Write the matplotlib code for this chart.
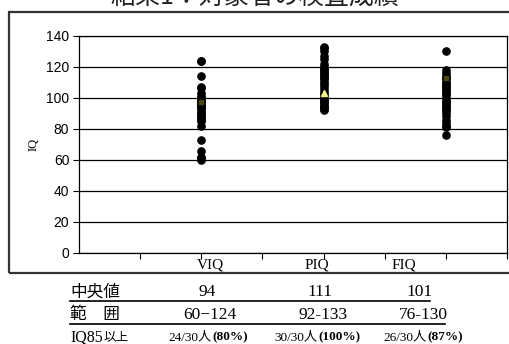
import matplotlib
matplotlib.use("Agg")
import matplotlib.pyplot as plt
from matplotlib.patches import Rectangle
from matplotlib.lines import Line2D

# IQ scores per subtest (30 subjects each)
categories = ["VIQ", "PIQ", "FIQ"]
viq = [60, 61, 62, 66, 73, 82, 85, 86, 87, 88, 89, 90, 91, 93, 94,
       94, 94, 95, 96, 97, 98, 99, 100, 101, 103, 106, 107, 114, 124, 124]
piq = [92, 93, 94, 95, 96, 97, 98, 99, 100, 102, 103, 105, 107, 109, 110,
       112, 113, 114, 115, 116, 117, 118, 119, 120, 122, 125, 127, 130, 132, 133]
fiq = [76, 81, 82, 84, 86, 88, 90, 92, 93, 94, 95, 96, 97, 98, 100,
       102, 103, 104, 105, 106, 107, 108, 109, 110, 112, 113, 114, 116, 118, 130]
scores = [viq, piq, fiq]

# a few highlighted points (other marker styles in the original)
hl_square = [97, None, 113]
hl_triangle = [None, 103, None]

# summary table under the chart
row_labels = ["中央値", "範\u3000囲"]
medians = ["94", "111", "101"]
ranges = ["60\u2212124", "92-133", "76-130"]
counts = ["24/30人", "30/30人", "26/30人"]
percents = ["(80%)", "(100%)", "(87%)"]

title = "結果1：対象者の検査成績"
cjk = ["Noto Sans CJK JP", "DejaVu Sans"]
serif = ["Liberation Serif", "Noto Sans CJK JP"]

W, H = 510, 344
fig = plt.figure(figsize=(W / 100, H / 100), dpi=100)


def fx(px):
    return px / W


def fy(py):
    return 1 - py / H


# outer frame
fig.patches.append(Rectangle((fx(9), fy(273)), fx(520 - 9), (273 - 12) / H,
                             transform=fig.transFigure, fill=False,
                             edgecolor="#333333", lw=1.6, clip_on=False))

fig.text(fx(255), fy(10), title, ha="center", va="bottom",
         fontsize=18, family=cjk, color="#222222")

ax = fig.add_axes([fx(79), fy(253), fx(507 - 79), (253 - 35.7) / H])
xpos = [2, 4, 6]
for x, vals in zip(xpos, scores):
    ax.plot([x] * len(vals), vals, "o", color="black", ms=5.2, zorder=3)
for x, v in zip(xpos, hl_square):
    if v is not None:
        ax.plot(x, v, "s", color="#4a4a10", ms=3.5, zorder=4)
for x, v in zip(xpos, hl_triangle):
    if v is not None:
        ax.plot(x, v, "^", color="#f3f08a", ms=4, zorder=4)

ax.set_xlim(0, 7)
ax.set_ylim(0, 140)
ax.set_yticks(range(0, 141, 20))
ax.set_xticks(range(1, 8))
ax.set_xticklabels([])
for lab in ax.get_yticklabels():
    lab.set_family("Liberation Sans")
    lab.set_fontsize(10)
ax.tick_params(direction="out", length=4, width=0.8, pad=3)
ax.grid(axis="y", color="black", lw=0.9)
ax.set_axisbelow(True)
for s in ax.spines.values():
    s.set_color("black")
    s.set_linewidth(0.9)
ax.set_ylabel("IQ", family=serif, fontsize=9, labelpad=5)

# category labels (offset from the ticks as in the original)
cat_x = [210, 317, 404]
for x, c in zip(cat_x, categories):
    fig.text(fx(x), fy(265), c, ha="center", va="center", fontsize=11, family=serif)

# table below
col_x = [207, 320, 420]
fig.text(fx(70), fy(292), row_labels[0], ha="left", va="center", fontsize=12, family=cjk)
fig.text(fx(70), fy(315), row_labels[1], ha="left", va="center", fontsize=12, family=cjk)
for x, m, r in zip(col_x, medians, ranges):
    fig.text(fx(x), fy(292), m, ha="center", va="center", fontsize=12.5, family=serif)
    fig.text(fx(x + 3), fy(315), r, ha="center", va="center", fontsize=12.5, family=serif)
fig.add_artist(Line2D([fx(70), fx(430)], [fy(301), fy(301)], color="black", lw=1.2))
fig.add_artist(Line2D([fx(70), fx(445)], [fy(324), fy(324)], color="black", lw=1.2))

fig.text(fx(70), fy(337), "IQ85", ha="left", va="center", fontsize=11.5, family=serif)
fig.text(fx(104), fy(337), "以上", ha="left", va="center", fontsize=9, family=cjk)
split_x = [212, 318, 427]
for x, c, p in zip(split_x, counts, percents):
    fig.text(fx(x), fy(337), c, ha="right", va="center", fontsize=9.5, family=serif)
    fig.text(fx(x), fy(337), p, ha="left", va="center", fontsize=9.5,
             family=serif, weight="bold")

fig.savefig("out.png", dpi=100)
